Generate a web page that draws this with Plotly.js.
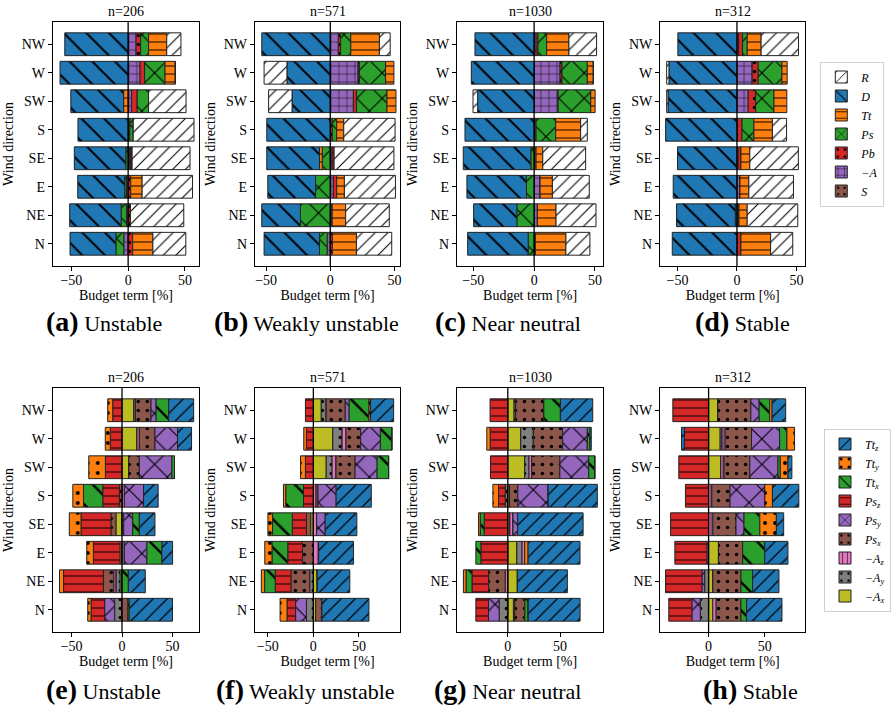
<!DOCTYPE html>
<html><head><meta charset="utf-8">
<script src="https://cdn.plot.ly/plotly-3.0.1.min.js"></script>
<style>body{margin:0;background:#fff}#chart{width:891px;height:710px}</style>
</head><body><div id="chart"></div>
<script>
// Categories (bottom to top)
const directions = ['N','NE','E','SE','S','SW','W','NW'];
const sampleCounts = ['n=206','n=571','n=1030','n=312'];
const regimeNames = ['Unstable','Weakly unstable','Near neutral','Stable'];
const topLetters = ['(a)','(b)','(c)','(d)'];
const bottomLetters = ['(e)','(f)','(g)','(h)'];
const xTicks = [-50, 0, 50];

// ---- Top row: budget terms, one row per stability class (a,b,c,d), values in N..NW order
const termS  = [[0,0,0,1,0,0,0,0],[0,0,0,0,0,0,0,0],[0,0,0,0,0.6,0,0,0],[0,0,0,0,0,0,0,0]];
const termA  = [[-3.8,-1.5,-1.5,1,0,3,10.5,7],[-2.4,1.5,2.4,1.5,0,18,21.7,6.3],[0.5,2.7,4.9,0,0,19.7,21.3,1.6],[0,0.8,2.5,1,0,9.4,12.8,1.4]];
const termPb = [[4,2,2.3,1.5,1.5,5,4,4],[1.6,0,2.6,1.5,1.6,2.4,1,1.8],[0.5,0,0,1.6,1,0,1.6,1.6],[3.3,0.9,0,2.3,4.2,6.4,5,3.3]];
const termPs = [[-7,-4.7,-1.5,-2,3,10,18,7],[-6,-23.3,-11.5,-6.3,3.4,23.8,20.4,7.9],[-4.9,-14.2,-6.3,-2.7,16.1,26.8,20.8,7.1],[0,-1.4,0,0,10,15.3,20,3.9]];
const termTt = [[17.8,0,10,0,0,-4,9,16],[18.8,10.5,6,-2.1,5.5,7,6.5,22.3],[25.1,15.3,10.1,5.5,20.5,3.6,4.9,18.3],[25,6.9,7.5,7.5,15.6,10.8,4.4,11.7]];
const termD  = [[-40.4,-45.3,-41.4,-45.4,-44.2,-46.5,-60,-55.8],[-43.2,-30.1,-37.2,-41.1,-49.5,-29.8,-33.8,-53.4],[-49.7,-35.5,-48.9,-55.5,-56.8,-46.4,-51.6,-48.6],[-54.4,-49.4,-53.6,-50,-60,-58,-57.2,-49.7]];
const termR  = [[29,47,44.4,51,53.5,33,0,12.5],[27.5,34,39.8,46.6,40,-18.3,-17.8,8.4],[19.7,32.8,30.3,35.2,5.5,-3.8,0,22.7],[18.6,42.5,37.5,40.8,11.9,-1.1,-1.9,31.4]];

// ---- Bottom row: component terms (e,f,g,h)
const termAx  = [[0,-2,-2,-6,0,6.6,14.9,11.6],[2.5,4.3,0,-2.9,0,14.1,21.3,8.7],[5.4,9.2,8.6,2,1.6,16.2,12.4,6],[3.8,3.8,8.8,0,0,10.9,10.3,8.2]];
const termAy  = [[-7.3,-3.9,0,0,0,0,0,1.7],[-7.6,-4,0,0,0,6.5,10.1,5.4],[-8.3,0,5.1,0,-2.5,4.1,12.1,1.5],[-7.4,-3.5,0,0,0,0,1.5,0]];
const termAz  = [[0,-2.3,2.3,1.7,2.3,0,2.3,0],[0,0,5.8,3.6,2.9,4.3,4.3,0],[1.3,-2.5,2.5,2.9,0,2.5,0,0],[2.9,0,0,3.8,2.9,2.9,2.9,0]];
const termPsx = [[5.9,-10.2,0,-5,-2.6,10.6,15.5,15.5],[6.9,-20.6,-11.9,-4.7,2.2,20.9,16.2,20.9],[9.6,-15.9,0,0,8,27,28,27],[22.1,25,21.5,20.6,16.2,22.9,23.5,29.4]];
const termPsy = [[-9.9,0,22.4,8.9,19.1,32.3,22.4,5],[-11.9,0,0,9.4,19.9,24.2,21.7,4.3],[-10.2,0,0,4.5,29,27.7,23.6,0],[-7.4,-2.4,-1.5,7.1,30.9,25,25,7.4]];
const termPsz = [[-13.5,-39.6,-26.4,-29.7,-16.5,-16.5,-11.6,-9.2],[-9.4,-17.3,-16.2,-15.5,-10.8,-8.7,-7.6,-8.7],[-12.1,-15.9,-25.8,-22.6,-6.4,-16.6,-16.9,-17],[-20.6,-32.4,-28.5,-33.8,-20.6,-26.5,-21.5,-31.8]];
const termTtx = [[1.3,6.3,14.9,6.6,-19.1,2.6,0,12.5],[0,-11.6,-17.3,-21.7,-19.5,12.6,12.6,21.7],[3.2,-5.7,-4.8,-3.8,0,5.7,2.5,15.9],[5,10.3,19.7,14.1,0,2.1,6.5,9.4]];
const termTty = [[-3.3,-4,-6.6,-11.6,-10.6,-16.5,-5,-5],[-7.6,-3.6,-7.9,-5.1,-2.5,-5.4,-2.9,1.8],[0,-2.5,3.2,-1.6,-5.4,0,-3.2,0],[0,0,0,14.7,6.8,6.8,6.8,2.1]];
const termTtz = [[42.9,16.8,10.6,15.5,14.5,0,13.9,24.8],[51.6,35.7,38.3,34.7,38.6,0,0,25.3],[49.7,47.8,49.7,62.7,47.1,0,1.3,30.9],[31.5,23.5,20.6,6.5,23.5,3.5,-2.6,12.1]];

// Style definitions (stack order from zero outward)
const topTerms = [
  {data: termS,  name: '<i>S</i>',  color: '#8c564b', shape: '.', size: 8},
  {data: termA,  name: '<i>−A</i>', color: '#9467bd', shape: '+', size: 8},
  {data: termPb, name: '<i>Pb</i>', color: '#d62728', shape: '.', size: 9},
  {data: termPs, name: '<i>Ps</i>', color: '#2ca02c', shape: 'x', size: 18},
  {data: termTt, name: '<i>Tt</i>', color: '#ff7f0e', shape: '-', size: 8},
  {data: termD,  name: '<i>D</i>',  color: '#1f77b4', shape: '\\', size: 16},
  {data: termR,  name: '<i>R</i>',  color: '#ffffff', shape: '/', size: 9}
];
const bottomTerms = [
  {data: termAx,  name: '<i>−A<sub>x</sub></i>',  color: '#bcbd22', shape: '', size: 8},
  {data: termAy,  name: '<i>−A<sub>y</sub></i>',  color: '#7f7f7f', shape: '.', size: 9},
  {data: termAz,  name: '<i>−A<sub>z</sub></i>',  color: '#e377c2', shape: '|', size: 6},
  {data: termPsx, name: '<i>Ps<sub>x</sub></i>', color: '#8c564b', shape: '.', size: 9},
  {data: termPsy, name: '<i>Ps<sub>y</sub></i>', color: '#9467bd', shape: 'x', size: 18},
  {data: termPsz, name: '<i>Ps<sub>z</sub></i>', color: '#d62728', shape: '-', size: 8},
  {data: termTtx, name: '<i>Tt<sub>x</sub></i>', color: '#2ca02c', shape: '\\', size: 20},
  {data: termTty, name: '<i>Tt<sub>y</sub></i>', color: '#ff7f0e', shape: '.', size: 10},
  {data: termTtz, name: '<i>Tt<sub>z</sub></i>', color: '#1f77b4', shape: '/', size: 10}
];

const W = 891, H = 710;
const colPx = [[53,200],[256,402],[459,606],[663,809]];
const topRows = [22,266], botRows = [388,632];
const topRanges = [[-66.4,62.5],[-58.8,54.5],[-63.4,56.8],[-64.7,57.5]];
const botRanges = [[-68.7,76.5],[-64.2,95.3],[-48.7,91.4],[-43.2,86.1]];
const FAM = 'Liberation Serif, DejaVu Serif, serif';
const f = (size) => ({family: FAM, size: size, color: '#000'});

const traces = [];
const layout = {
  width: W, height: H, margin: {l:0, r:0, t:0, b:0},
  paper_bgcolor: '#fff', plot_bgcolor: '#fff',
  barmode: 'relative', bargap: 0.2,
  font: f(14),
  showlegend: true,
  legend: {x: 824/W, y: 1-134/H, xanchor: 'left', yanchor: 'middle', traceorder: 'reversed',
           bordercolor: '#d0d0d0', borderwidth: 1, font: f(12), itemwidth: 30},
  legend2: {x: 828/W, y: 1-520/H, xanchor: 'left', yanchor: 'middle', traceorder: 'reversed',
           bordercolor: '#d0d0d0', borderwidth: 1, font: f(12), itemwidth: 30},
  shapes: [], annotations: []
};

function addPanel(k, col, rows, range, terms, legendName, title) {
  const sfx = k === 1 ? '' : String(k);
  layout['xaxis' + sfx] = {
    domain: [colPx[col][0]/W, colPx[col][1]/W], range: range, anchor: 'y' + sfx,
    tickvals: xTicks, ticks: 'outside', ticklen: 4, tickwidth: 1, tickcolor: '#000',
    ticklabelstandoff: -3,
    showline: true, mirror: true, linecolor: '#000', linewidth: 1,
    showgrid: false, zeroline: false, tickfont: f(14),
    title: {text: 'Budget term [%]', font: f(14), standoff: 0}
  };
  layout['yaxis' + sfx] = {
    domain: [1 - rows[1]/H, 1 - rows[0]/H], anchor: 'x' + sfx,
    type: 'category', categoryorder: 'array', categoryarray: directions, range: [-0.78, 7.78],
    ticks: 'outside', ticklen: 4, tickwidth: 1, tickcolor: '#000',
    showline: true, mirror: true, linecolor: '#000', linewidth: 1,
    showgrid: false, zeroline: false, tickfont: f(14),
    title: {text: 'Wind direction', font: f(14), standoff: 4}
  };
  terms.forEach(t => {
    traces.push({
      type: 'bar', orientation: 'h', x: t.data[col], y: directions,
      xaxis: 'x' + sfx, yaxis: 'y' + sfx, name: t.name,
      legend: legendName,
      showlegend: col === 0, hoverinfo: 'skip',
      marker: {color: t.color, line: {color: '#222', width: 1},
               pattern: {shape: t.shape, fgcolor: '#000', bgcolor: t.color, size: t.size, solidity: 0.12, fillmode: 'replace'}}
    });
  });
  layout.shapes.push({type: 'line', xref: 'x' + sfx, yref: 'y' + sfx + ' domain', x0: 0, x1: 0, y0: 0, y1: 1,
                      layer: 'above', line: {color: '#000', width: 1.3}});
  layout.annotations.push({xref: 'paper', yref: 'paper', x: (colPx[col][0]+colPx[col][1])/2/W, y: 1 - (rows[0]-1)/H,
                           xanchor: 'center', yanchor: 'bottom', showarrow: false, text: title, font: f(14)});
}

for (let c = 0; c < 4; c++) addPanel(c + 1, c, topRows, topRanges[c], topTerms, 'legend', sampleCounts[c]);
for (let c = 0; c < 4; c++) addPanel(c + 5, c, botRows, botRanges[c], bottomTerms, 'legend2', sampleCounts[c]);

const topLabelX = [104, 308, 510, 746];
const botLabelX = [104, 307, 510, 754];
for (let c = 0; c < 4; c++) {
  layout.annotations.push({xref: 'paper', yref: 'paper', x: topLabelX[c]/W, y: 1 - 321/H, xanchor: 'center', yanchor: 'middle',
    showarrow: false, text: '<b style="font-size:28px">' + topLetters[c] + '</b> ' + regimeNames[c], font: f(22)});
  layout.annotations.push({xref: 'paper', yref: 'paper', x: botLabelX[c]/W, y: 1 - 689/H, xanchor: 'center', yanchor: 'middle',
    showarrow: false, text: '<b style="font-size:28px">' + bottomLetters[c] + '</b> ' + regimeNames[c], font: f(22)});
}

Plotly.newPlot('chart', traces, layout, {staticPlot: true});
</script>
</body></html>
